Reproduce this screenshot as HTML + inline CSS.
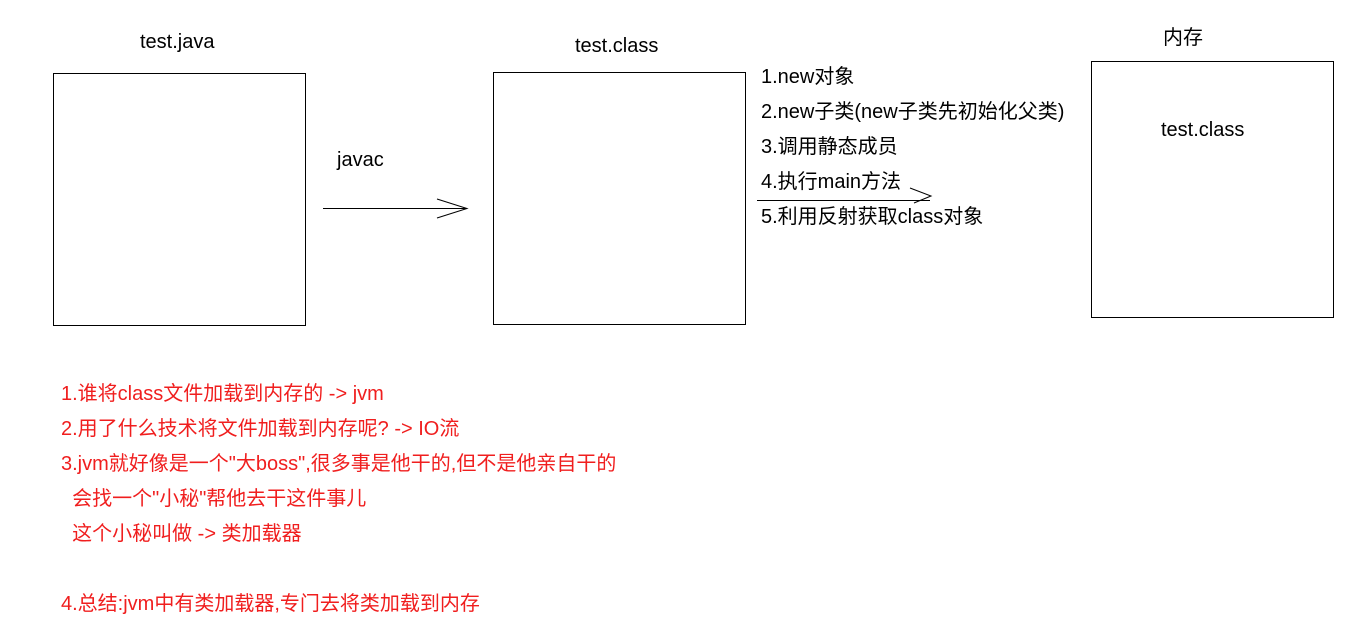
<!DOCTYPE html>
<html><head><meta charset="utf-8"><style>
body{margin:0;width:1351px;height:622px;background:#fff;position:relative;overflow:hidden;font-family:"Liberation Sans","Noto Sans CJK SC",sans-serif;}
.t{position:absolute;font-size:20px;line-height:22px;white-space:pre;color:#000;}
.r{color:#f01e1e;}
.b{position:absolute;border:1px solid #000;box-sizing:border-box;}
</style></head><body>
<div class="b" style="left:53px;top:73px;width:253px;height:253px"></div>
<div class="b" style="left:493px;top:72px;width:253px;height:253px"></div>
<div class="b" style="left:1091px;top:61px;width:243px;height:257px"></div>
<div class="t" style="left:140px;top:31px">test.java</div>
<div class="t" style="left:575px;top:35px">test.class</div>
<div class="t" style="left:1163px;top:27px">内存</div>
<div class="t" style="left:1161px;top:119px">test.class</div>
<div class="t" style="left:337px;top:149px">javac</div>
<svg style="position:absolute;left:0;top:0" width="1351" height="622">
<g stroke="#000" stroke-width="1" fill="none">
<line x1="323" y1="208.5" x2="467" y2="208.5"/>
<polyline points="437,199 467,208.5 437,218"/>
<line x1="757" y1="200.5" x2="930" y2="200.5"/>
<polyline points="910,188 931,196 914,203"/>
</g></svg>
<div class="t" style="left:761px;top:66px">1.new对象</div>
<div class="t" style="left:761px;top:101px">2.new子类(new子类先初始化父类)</div>
<div class="t" style="left:761px;top:136px">3.调用静态成员</div>
<div class="t" style="left:761px;top:171px">4.执行main方法</div>
<div class="t" style="left:761px;top:206px">5.利用反射获取class对象</div>
<div class="t r" style="left:61px;top:383px">1.谁将class文件加载到内存的 -&gt; jvm</div>
<div class="t r" style="left:61px;top:418px">2.用了什么技术将文件加载到内存呢? -&gt; IO流</div>
<div class="t r" style="left:61px;top:453px">3.jvm就好像是一个"大boss",很多事是他干的,但不是他亲自干的</div>
<div class="t r" style="left:61px;top:488px">  会找一个"小秘"帮他去干这件事儿</div>
<div class="t r" style="left:61px;top:523px">  这个小秘叫做 -&gt; 类加载器</div>
<div class="t r" style="left:61px;top:593px">4.总结:jvm中有类加载器,专门去将类加载到内存</div>
</body></html>
